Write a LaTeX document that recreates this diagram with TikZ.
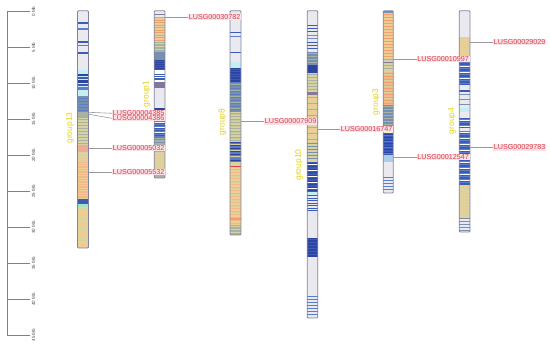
\documentclass[tikz,border=0pt]{standalone}
\usepackage{fontspec}
\setmainfont{Liberation Sans}
\definecolor{cLG}{HTML}{E9E9EF}
\definecolor{cB}{HTML}{3A5BB8}
\definecolor{cDB}{HTML}{2D45A0}
\definecolor{cMB}{HTML}{5A7EC8}
\definecolor{cSB}{HTML}{7890B0}
\definecolor{cCY}{HTML}{C6EEF2}
\definecolor{cGG}{HTML}{A8B2A4}
\definecolor{cKH}{HTML}{D8D2A0}
\definecolor{cOL}{HTML}{C8C890}
\definecolor{cTN}{HTML}{EECE92}
\definecolor{cPE}{HTML}{F4B888}
\definecolor{cOR}{HTML}{F0A070}
\definecolor{cSA}{HTML}{F0A898}
\definecolor{cPU}{HTML}{8878A0}
\definecolor{cLGR}{HTML}{A8E0C0}
\definecolor{cRed}{HTML}{E04040}
\definecolor{cPale}{HTML}{F8F0C8}
\definecolor{cLB}{HTML}{ACCCE8}
\definecolor{genered}{HTML}{D84048}
\definecolor{genepink}{HTML}{FBE2E8}
\definecolor{grpyellow}{HTML}{E2D31E}
\definecolor{outl}{HTML}{80849E}
\newcommand\chrband[3]{\fill[#3] (\cxa,#1) rectangle (\cxb,#2);}
\newcommand\chrlines[4]{\foreach \yy in {#1,#2,...,#3} \draw[#4, line width=1pt] (\cxa,\yy) -- (\cxb,\yy);}
\begin{document}
\begin{tikzpicture}[x=1pt,y=-1pt,
  chrom/.style={draw=outl, line width=0.8pt, rounded corners=1pt, inner sep=0pt, outer sep=0pt, anchor=north west},
  gene/.style={text=genered, fill=genepink, font=\fontsize{7.2}{8}\selectfont, inner sep=0.6pt, anchor=west},
  grp/.style={text=grpyellow, font=\fontsize{8.5}{9}\selectfont, rotate=90},
  ticklab/.style={text=black!70, font=\fontsize{4.5}{5}\selectfont, rotate=90},
  axisline/.style={draw=black!50, line width=0.8pt},
  conn/.style={draw=black!40, line width=0.6pt}]
\useasboundingbox (0,0) rectangle (550,347);
\fill[white] (0,0) rectangle (550,347);
% axis
\coordinate (ax0) at (7,11.7);
\coordinate (ax45) at (7,335.2);
\draw[axisline] (ax0) -- (ax45);
\foreach \i in {0,5,...,45} {
  \coordinate (t\i) at (7,11.7+7.19*\i);
  \coordinate (te\i) at (30,11.7+7.19*\i);
  \draw[axisline] (t\i) -- (te\i);
  \node[ticklab] (tl\i) at (33.5,11.7+7.19*\i) {\i\ Mb};
}
% group13
\def\cxa{77.5}\def\cxb{88.5}
\chrband{10.7}{248}{cLG}
\chrband{22}{24.5}{cB}
\chrband{28.5}{29.8}{cMB}
\chrband{41}{43.5}{cB}
\chrband{45}{46}{cMB}
\chrband{52.5}{53.8}{cB}
\chrband{70}{96}{cCY}
\chrband{74}{76}{cDB}\chrband{77}{79.5}{cB}\chrband{80.5}{83}{cDB}\chrband{84}{86.5}{cB}\chrband{87.5}{90}{cMB}
\chrband{96}{112}{cSB}\chrlines{99}{102}{111}{cMB}
\chrband{112}{118}{cGG}
\chrband{118}{145}{cKH}\chrlines{120}{123}{144}{cGG}
\chrband{145}{152}{cSA}
\chrband{152}{162}{cKH}\chrlines{154}{157}{161}{cTN}
\chrband{162}{198}{cPE}\chrlines{163.5}{166}{197}{cTN}
\chrband{198}{199.5}{cTN}
\chrband{199.5}{204}{cB}
\chrband{204}{207}{cLGR}
\chrband{207}{248}{cTN}\chrlines{208.5}{211}{247}{cKH}
\node[chrom, minimum width=11pt, minimum height=237.3pt] (g13) at (77.5,10.7) {};
% group1
\def\cxa{154.3}\def\cxb{165}
\chrband{10.7}{178}{cLG}
\chrband{14.5}{15.5}{cPU}
\chrband{17}{42}{cTN}\chrlines{18}{20.5}{41}{cOR}\chrlines{19.2}{24.2}{41}{cKH}
\chrband{42}{52}{cGG}\chrlines{43.5}{46.5}{51}{cKH}
\chrband{52}{60}{cSB}
\chrband{60}{70}{cB}\chrlines{61}{63}{69}{cDB}
\chrband{70}{73}{white}
\chrband{73}{80}{cB}\chrlines{74}{76}{79}{white}
\chrband{80}{82}{white}
\chrband{82}{88}{cMB}\chrlines{83}{85}{87}{cPU}
\chrband{108}{115}{cDB}
\chrband{115}{138}{cMB}\chrlines{116}{118.5}{137}{cB}\chrlines{117.2}{122.2}{137}{white}
\chrband{138}{152}{cGG}\chrlines{139.5}{142.5}{151}{cSB}
\chrband{152}{172}{cKH}\chrlines{153.5}{156.5}{171}{cTN}
\chrband{172}{178}{cGG}
\node[chrom, minimum width=10.7pt, minimum height=167.3pt] (g1) at (154.3,10.7) {};
% group8
\def\cxa{230}\def\cxb{241}
\chrband{10.7}{235}{cLG}
\chrband{32.5}{33.5}{cB}\chrband{36.5}{37.5}{cMB}\chrband{52.5}{53.5}{cB}
\chrband{62}{68}{cCY}
\chrband{68}{82}{cDB}\chrlines{69.5}{72}{81}{cB}
\chrband{82}{112}{cSB}\chrlines{83}{86}{111}{cMB}\chrlines{84.5}{90.5}{111}{cGG}
\chrband{112}{142}{cKH}\chrlines{113.5}{116.5}{141}{cGG}\chrlines{115}{121}{141}{cOL}
\chrband{142}{162}{cMB}\chrlines{143}{146}{161}{cDB}\chrlines{144.5}{150.5}{161}{cKH}\chrband{157}{158.5}{cPU}
\chrband{162}{168}{cKH}\chrband{166.5}{167.3}{cRed}
\chrband{168}{225}{cTN}\chrlines{169.5}{172.5}{224}{cPE}\chrlines{171}{177}{224}{cKH}\chrband{218}{220.5}{cOR}
\chrband{225}{235}{cGG}\chrlines{226.5}{229.5}{234}{cKH}
\node[chrom, minimum width=11pt, minimum height=224.3pt] (g8) at (230,10.7) {};
% group10
\def\cxa{307.3}\def\cxb{317.7}
\chrband{10.7}{318}{cLG}
\chrlines{25.5}{28.5}{32}{cB}
\chrlines{35.5}{38.5}{39}{cSB}
\chrlines{42.5}{45.5}{51}{cB}
\chrband{52}{65}{cSB}\chrlines{53.5}{56.5}{64}{cGG}
\chrband{65}{73}{cDB}
\chrband{73}{92}{cKH}\chrlines{74.5}{77.5}{91}{cGG}
\chrband{92}{95}{cPU}
\chrband{95}{142}{cTN}\chrlines{96.5}{99.5}{141}{cKH}\chrlines{98}{104}{141}{cGG}
\chrband{142}{162}{cKH}\chrlines{143.5}{146.5}{161}{cSB}
\chrband{162}{192}{cB}\chrlines{163.5}{166.5}{191}{cDB}\chrlines{165}{171}{191}{white}
\chrband{192}{195}{cCY}
\chrlines{196}{198.5}{212}{cB}
\chrband{238}{257}{cDB}\chrlines{239.5}{242.5}{256}{cB}
\chrlines{297}{300}{316}{cMB}
\node[chrom, minimum width=10.4pt, minimum height=307.3pt] (g10) at (307.3,10.7) {};
% group3
\def\cxa{383.3}\def\cxb{393.3}
\chrband{10.7}{193}{cLG}
\chrband{10.7}{13}{cSB}
\chrband{13}{58}{cTN}\chrlines{14.5}{17.5}{57}{cOR}\chrlines{16}{22}{57}{cKH}
\chrband{58}{72}{cKH}\chrlines{59.5}{62.5}{71}{cGG}\chrband{62}{63.5}{cPU}
\chrband{72}{105}{cPE}\chrlines{73.5}{76.5}{104}{cOR}\chrlines{75}{81}{104}{cKH}
\chrband{105}{128}{cSB}\chrlines{106.5}{109.5}{127}{cGG}
\chrband{128}{133}{cPale}
\chrband{133}{155}{cB}\chrlines{134.5}{137.5}{154}{cDB}\chrlines{136}{142}{154}{cMB}
\chrband{155}{162}{cLB}
\chrlines{178}{181}{192}{cMB}
\node[chrom, minimum width=10pt, minimum height=182.3pt] (g3) at (383.3,10.7) {};
% group4
\def\cxa{459.3}\def\cxb{470}
\chrband{10.7}{232}{cLG}
\chrband{37}{58}{cTN}\chrlines{38.5}{41.5}{57}{cKH}
\chrband{58}{85}{cB}\chrlines{59.5}{62.5}{84}{cMB}\chrlines{61}{67}{84}{white}
\chrband{90}{92}{cB}
\chrlines{95}{100}{107}{cSB}
\chrband{108}{112}{cCY}
\chrband{118}{185}{cB}\chrlines{119.5}{122.5}{184}{cMB}\chrlines{121}{127}{184}{white}\chrband{128}{131}{cLG}
\chrband{185}{218}{cKH}\chrlines{186.5}{189.5}{217}{cTN}
\chrlines{219}{222}{231}{cSB}
\node[chrom, minimum width=10.7pt, minimum height=221.3pt] (g4) at (459.3,10.7) {};
% group labels
\node[grp] (lg13) at (70,128) {group13};
\node[grp] (lg1) at (146.5,94) {group1};
\node[grp] (lg8) at (222.5,122) {group8};
\node[grp] (lg10) at (299,165) {group10};
\node[grp] (lg3) at (376,102) {group3};
\node[grp] (lg4) at (452,121) {group4};
% gene positions on chromosomes
\coordinate (m30782) at (165,17);
\coordinate (m4385) at (88.5,112.3);
\coordinate (m4386) at (88.5,114.2);
\coordinate (m5032) at (88.5,148);
\coordinate (m5532) at (88.5,172);
\coordinate (m7909) at (241,121.5);
\coordinate (m16747) at (317.7,129);
\coordinate (m10997) at (393.3,59);
\coordinate (m12547) at (393.3,157);
\coordinate (m29029) at (470,42.3);
\coordinate (m29783) at (470,147.5);
% gene labels
\node[gene] (l30782) at (188,17) {LUSG00030782};
\node[gene] (l4385) at (112,113.3) {LUSG00004385};
\node[gene] (l4386) at (112,118.3) {LUSG00004386};
\node[gene] (l5032) at (112,148) {LUSG00005032};
\node[gene] (l5532) at (112,172) {LUSG00005532};
\node[gene] (l7909) at (264,121.5) {LUSG00007909};
\node[gene] (l16747) at (340,129) {LUSG00016747};
\node[gene] (l10997) at (416.5,59) {LUSG00010997};
\node[gene] (l12547) at (416.5,157) {LUSG00012547};
\node[gene] (l29029) at (493,42.3) {LUSG00029029};
\node[gene] (l29783) at (493,147.5) {LUSG00029783};
% connectors
\foreach \g in {30782,4385,4386,5032,5532,7909,16747,10997,12547,29029,29783}
  \draw[conn] (m\g) -- (l\g.west);
\end{tikzpicture}
\end{document}
